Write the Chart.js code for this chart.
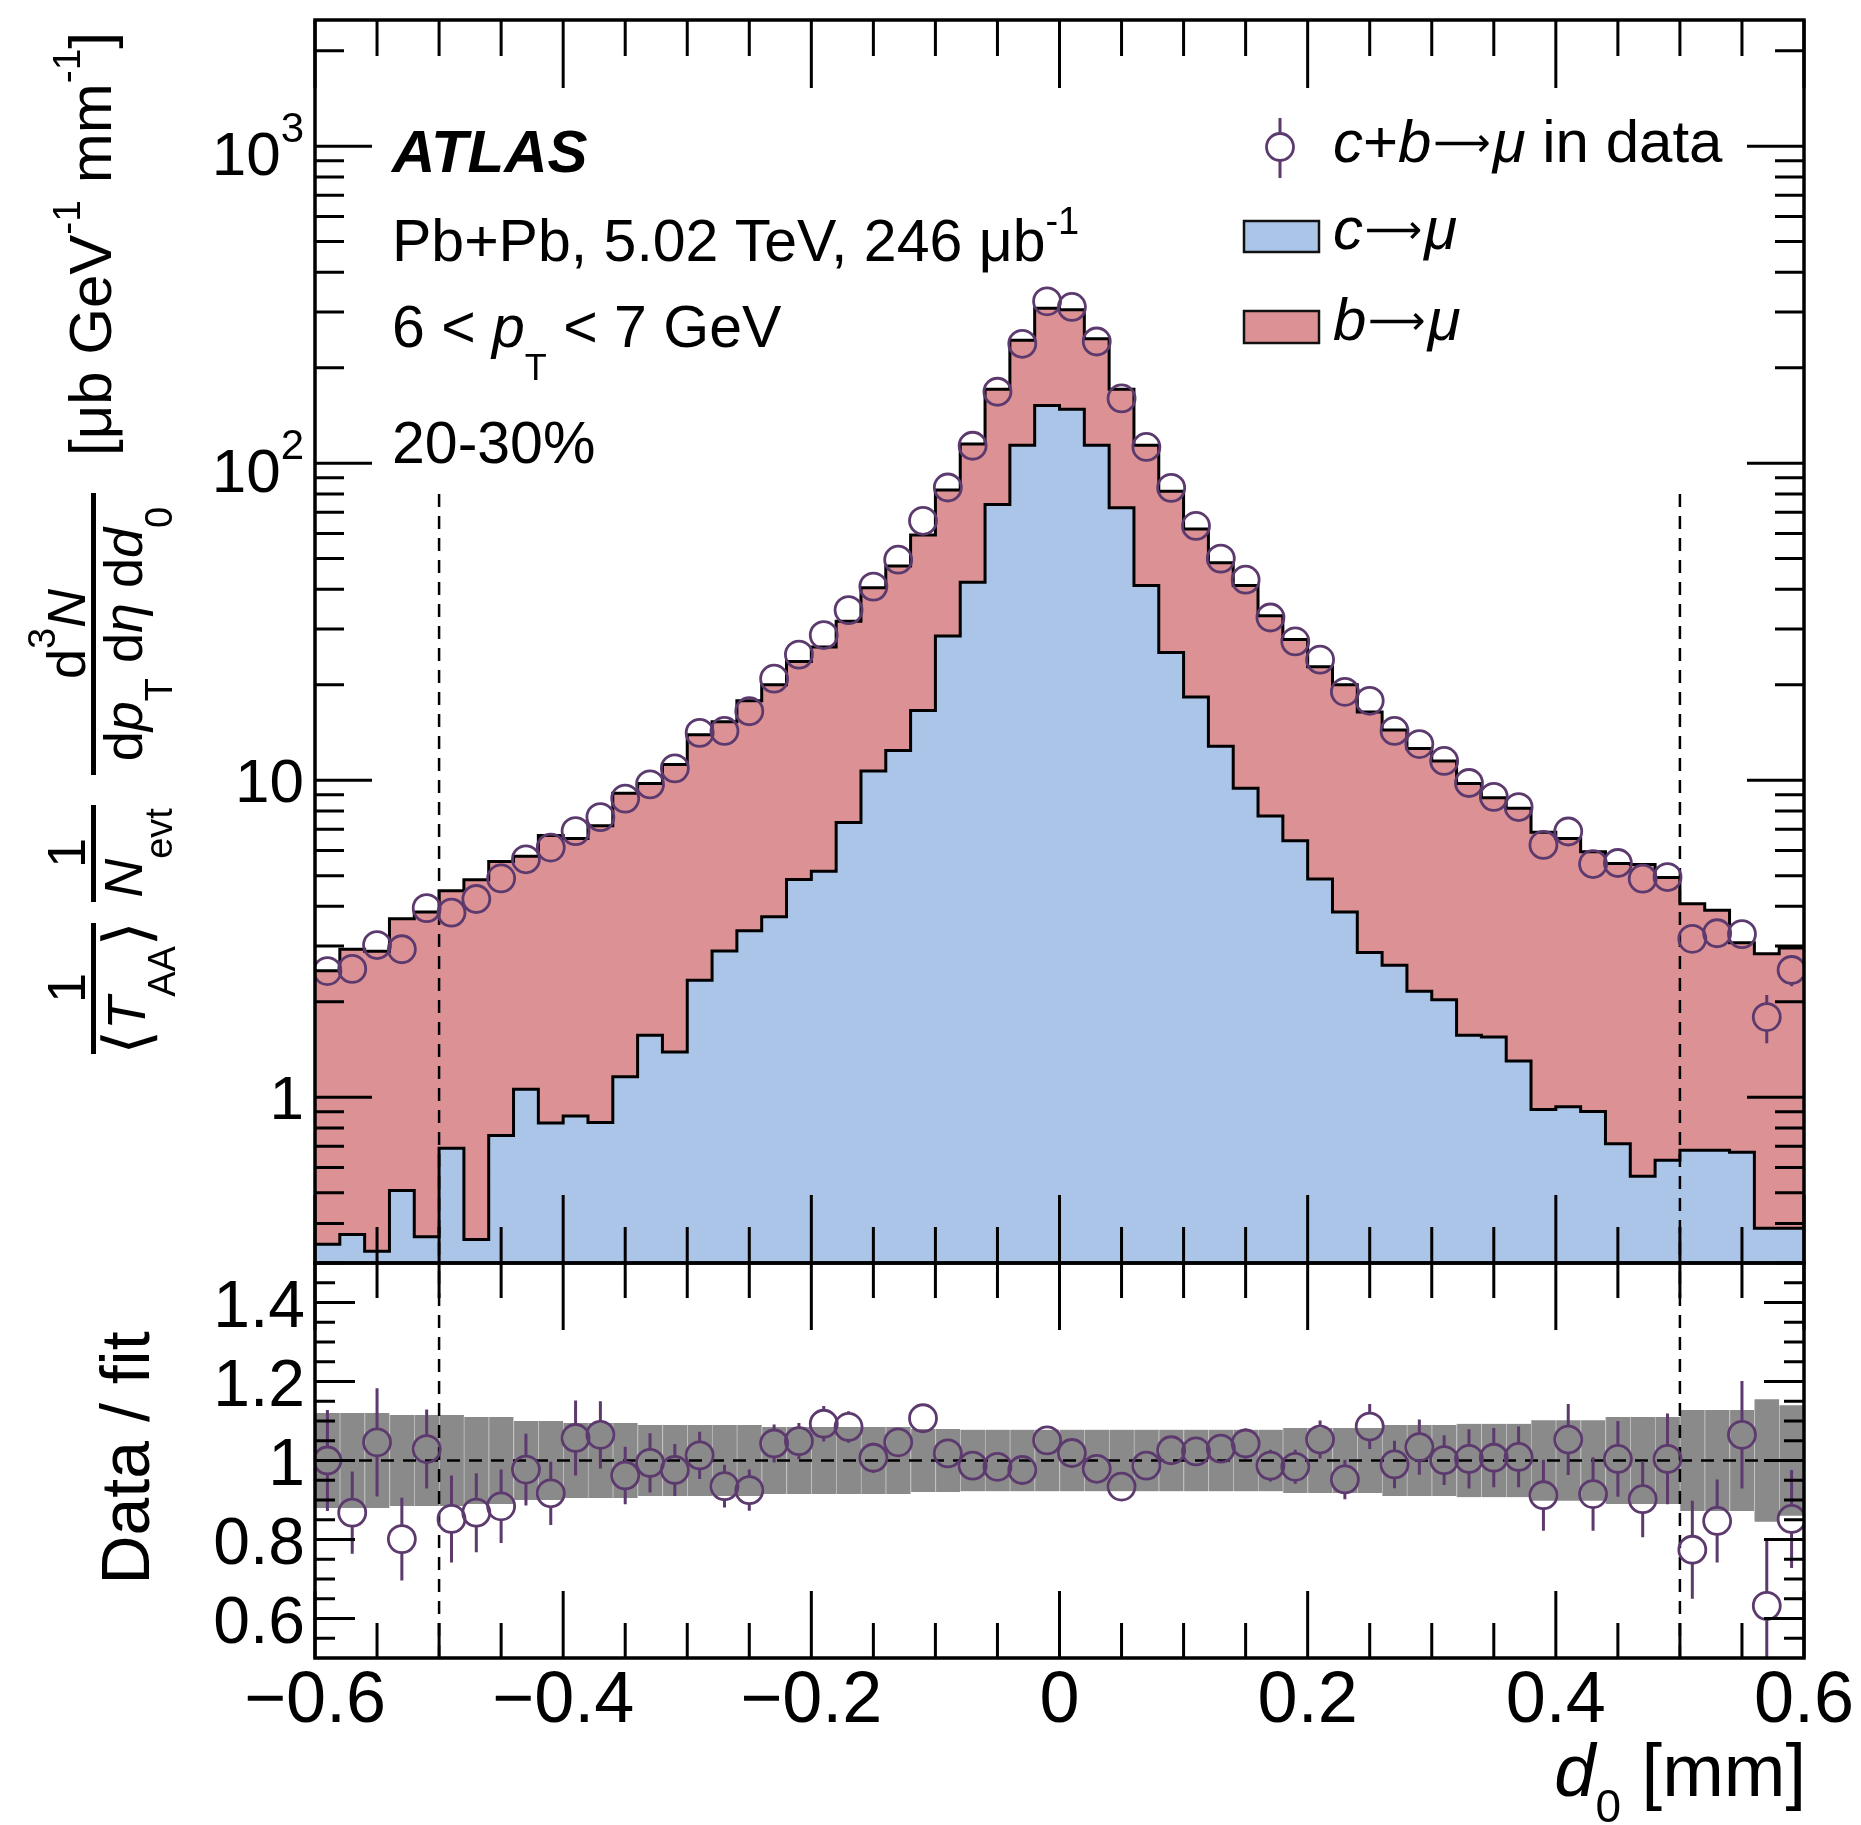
<!DOCTYPE html>
<html>
<head>
<meta charset="utf-8">
<title>c+b→μ d0 distribution</title>
<script src="https://cdn.jsdelivr.net/npm/chart.js@4.4.1/dist/chart.umd.min.js"></script>
<style>
  html, body { margin: 0; padding: 0; background: #ffffff; }
  #wrap { position: relative; width: 1861px; height: 1825px; }
  #wrap canvas { position: absolute; left: 0; top: 0; }
</style>
</head>
<body>
<div id="wrap">
  <canvas id="mainChart" width="1861" height="1825"></canvas>
  <canvas id="ratioChart" width="1861" height="1825"></canvas>
</div>
<script>
// d0 bins [mm], width 0.02
const binCenters = [-0.59, -0.57, -0.55, -0.53, -0.51, -0.49, -0.47, -0.45, -0.43, -0.41,
  -0.39, -0.37, -0.35, -0.33, -0.31, -0.29, -0.27, -0.25, -0.23, -0.21,
  -0.19, -0.17, -0.15, -0.13, -0.11, -0.09, -0.07, -0.05, -0.03, -0.01,
  0.01, 0.03, 0.05, 0.07, 0.09, 0.11, 0.13, 0.15, 0.17, 0.19,
  0.21, 0.23, 0.25, 0.27, 0.29, 0.31, 0.33, 0.35, 0.37, 0.39,
  0.41, 0.43, 0.45, 0.47, 0.49, 0.51, 0.53, 0.55, 0.57, 0.59];
const binWidth = 0.02;

// template yields, stacked (c first, b on top)
const cMuon = [0.344, 0.369, 0.327, 0.508, 0.363, 0.69, 0.356, 0.758, 1.06, 0.829,
  0.873, 0.832, 1.16, 1.57, 1.39, 2.34, 2.89, 3.35, 3.71, 4.86,
  5.16, 7.36, 10.7, 12.4, 16.6, 28.5, 42.1, 74.1, 114, 152,
  148, 114, 72.4, 41.1, 25.3, 18.3, 12.8, 9.44, 7.71, 6.44,
  4.88, 3.84, 2.86, 2.61, 2.16, 2.03, 1.57, 1.55, 1.30, 0.915,
  0.933, 0.902, 0.713, 0.563, 0.633, 0.68, 0.68, 0.67, 0.386, 0.386];
const bMuon = [2.16, 2.56, 2.56, 3.15, 3.48, 3.79, 4.50, 4.78, 4.70, 5.86,
  5.67, 6.35, 7.94, 8.19, 9.81, 11.56, 12.41, 14.45, 16.29, 18.84,
  21.14, 24.34, 29.8, 35.0, 42.8, 53.8, 72.9, 96.9, 130, 156,
  157, 133, 98.6, 72.9, 56.2, 43.7, 35.7, 31.66, 25.29, 21.36,
  17.92, 16.16, 13.54, 11.79, 10.44, 9.47, 8.19, 7.25, 6.86, 5.94,
  5.61, 5.05, 4.75, 4.86, 4.30, 3.40, 3.21, 2.40, 2.45, 2.57];

// c+b->mu in data
const dataValues = [2.50, 2.54, 3.02, 2.93, 3.95, 3.82, 4.22, 4.90, 5.63, 6.13,
  6.91, 7.65, 8.75, 9.70, 10.9, 14.1, 14.3, 16.5, 20.9, 24.9,
  28.7, 34.4, 40.8, 49.6, 65.8, 83.8, 113.5, 168, 238, 324,
  311, 242, 160, 112.5, 83.6, 63.4, 50.0, 42.9, 32.6, 27.4,
  24.0, 19.0, 17.8, 14.3, 13.0, 11.5, 9.80, 8.86, 8.23, 6.25,
  6.89, 5.44, 5.48, 4.89, 4.95, 3.16, 3.29, 3.27, 1.79, 2.52];
const dataErrors = [0.2, 0.2, 0.22, 0.2, 0.25, 0.24, 0.25, 0.27, 0.3, 0.3,
  0.33, 0.35, 0.38, 0.4, 0.42, 0.5, 0.5, 0.55, 0.65, 0.7,
  0.8, 0.9, 1.0, 1.1, 1.4, 1.6, 2, 2.6, 3.4, 4.2,
  4.1, 3.5, 2.6, 2, 1.6, 1.3, 1.1, 1.0, 0.85, 0.75,
  0.7, 0.6, 0.55, 0.5, 0.48, 0.45, 0.42, 0.4, 0.38, 0.35,
  0.35, 0.33, 0.33, 0.3, 0.3, 0.28, 0.28, 0.28, 0.31, 0.28];

// Data / fit
const ratioValues = [1.00, 0.868, 1.046, 0.801, 1.029, 0.852, 0.868, 0.884, 0.977, 0.917,
  1.057, 1.065, 0.962, 0.994, 0.976, 1.013, 0.935, 0.925, 1.043, 1.049,
  1.093, 1.085, 1.007, 1.046, 1.107, 1.018, 0.987, 0.984, 0.976, 1.051,
  1.019, 0.979, 0.934, 0.987, 1.026, 1.023, 1.03, 1.043, 0.987, 0.984,
  1.053, 0.952, 1.086, 0.99, 1.034, 1.001, 1.004, 1.007, 1.009, 0.912,
  1.053, 0.915, 1.004, 0.902, 1.004, 0.774, 0.847, 1.065, 0.632, 0.852];
const ratioErrors = [0.128, 0.104, 0.137, 0.105, 0.10, 0.11, 0.10, 0.093, 0.091, 0.08,
  0.095, 0.085, 0.073, 0.075, 0.066, 0.06, 0.054, 0.052, 0.048, 0.046,
  0.045, 0.04, 0.038, 0.036, 0.034, 0.03, 0.025, 0.02, 0.018, 0.016,
  0.016, 0.018, 0.02, 0.025, 0.03, 0.033, 0.035, 0.038, 0.04, 0.043,
  0.048, 0.05, 0.057, 0.06, 0.07, 0.063, 0.075, 0.075, 0.077, 0.09,
  0.09, 0.093, 0.096, 0.096, 0.115, 0.124, 0.105, 0.136, 0.17, 0.124];
// half width of the grey fit uncertainty band
const fitBand = [0.12, 0.12, 0.12, 0.115, 0.115, 0.115, 0.11, 0.11, 0.10, 0.10,
  0.095, 0.095, 0.095, 0.09, 0.09, 0.09, 0.09, 0.09, 0.085, 0.085,
  0.085, 0.085, 0.085, 0.085, 0.08, 0.08, 0.078, 0.078, 0.078, 0.078,
  0.078, 0.078, 0.078, 0.078, 0.078, 0.078, 0.078, 0.078, 0.078, 0.082,
  0.082, 0.082, 0.082, 0.09, 0.09, 0.09, 0.093, 0.093, 0.093, 0.102,
  0.102, 0.102, 0.11, 0.11, 0.11, 0.128, 0.128, 0.128, 0.155, 0.14];

// tick labels
const xTickValues = [-0.6, -0.4, -0.2, 0, 0.2, 0.4, 0.6];
const xTickLabels = ['\u22120.6', '\u22120.4', '\u22120.2', '0', '0.2', '0.4', '0.6'];
const yTickValues = [1, 10, 100, 1000];
const yTickLabels = [['1', ''], ['10', ''], ['10', '2'], ['10', '3']];
const ratioTickValues = [0.6, 0.8, 1, 1.2, 1.4];
const ratioTickLabels = ['0.6', '0.8', '1', '1.2', '1.4'];

const FONT = '"Liberation Sans", "DejaVu Sans", Arial, sans-serif';
const SYMBOL_FONT = '"DejaVu Sans", "Liberation Sans", sans-serif';
const BLUE = '#abc5e8';
const RED = '#dc9294';
const GREY = '#8a8a8a';
const PURPLE = '#5c3a6e';

// tick positions
const xTicks = [];
for (let k = -12; k <= 12; k++) xTicks.push({ v: k * 0.05, major: k % 4 === 0 });
const logTicks = [];
[0.1, 1, 10, 100, 1000].forEach(d => {
  for (let m = 1; m <= 9; m++) {
    const v = m * d;
    if (v >= 0.3 && v <= 2500) logTicks.push({ v: v, major: m === 1 });
  }
});
const ratioTicks = [];
for (let k = 11; k <= 29; k++) ratioTicks.push({ v: k * 0.05, major: k % 4 === 0 });

// histogram outline points at the bin edges
function stepPoints(values) {
  const pts = values.map((v, i) => ({ x: binCenters[i] - binWidth / 2, y: v }));
  pts.push({ x: binCenters[binCenters.length - 1] + binWidth / 2, y: values[values.length - 1] });
  return pts;
}

// text with italic / sub / superscript runs
function drawRich(ctx, x, y, runs, size, align) {
  const parts = runs.map(r => {
    const s = r.size || size;
    const font = (r.it ? 'italic ' : '') + (r.bold ? 'bold ' : '') + s + 'px ' + (r.sym ? SYMBOL_FONT : FONT);
    ctx.font = font;
    return { t: r.t, font: font, dy: r.dy || 0, pad: r.pad || 0, w: ctx.measureText(r.t).width + 2 * (r.pad || 0) };
  });
  const total = parts.reduce((s, p) => s + p.w, 0);
  let cx = align === 'center' ? x - total / 2 : align === 'right' ? x - total : x;
  ctx.textAlign = 'left';
  ctx.textBaseline = 'alphabetic';
  parts.forEach(p => {
    ctx.font = p.font;
    ctx.fillText(p.t, cx + p.pad, y + p.dy);
    cx += p.w;
  });
  return total;
}

function drawRotated(ctx, sx, sy, runs, size) {
  ctx.save();
  ctx.translate(sx, sy);
  ctx.rotate(-Math.PI / 2);
  drawRich(ctx, 0, 0, runs, size, 'center');
  ctx.restore();
}

function drawTicks(ctx, a, xs, ys, xt, yt, len) {
  ctx.strokeStyle = '#000';
  ctx.lineWidth = 3;
  ctx.beginPath();
  xt.forEach(t => {
    const px = xs.getPixelForValue(t.v);
    const l = t.major ? len.xMaj : len.xMin;
    ctx.moveTo(px, a.bottom); ctx.lineTo(px, a.bottom - l);
    ctx.moveTo(px, a.top); ctx.lineTo(px, a.top + l);
  });
  yt.forEach(t => {
    const py = ys.getPixelForValue(t.v);
    const l = t.major ? len.yMaj : len.yMin;
    ctx.moveTo(a.left, py); ctx.lineTo(a.left + l, py);
    ctx.moveTo(a.right, py); ctx.lineTo(a.right - l, py);
  });
  ctx.stroke();
  ctx.lineWidth = 3.5;
  ctx.strokeRect(a.left, a.top, a.right - a.left, a.bottom - a.top);
}

// vertical error bars outside the open markers
const errorBarPlugin = {
  id: 'errorBars',
  afterDatasetsDraw(chart) {
    const { ctx, chartArea: a } = chart;
    chart.data.datasets.forEach((ds, di) => {
      if (!ds.errors) return;
      const meta = chart.getDatasetMeta(di);
      const ys = chart.scales[meta.yAxisID];
      const r = ds.pointRadius;
      ctx.save();
      ctx.beginPath();
      ctx.rect(a.left, a.top, a.right - a.left, a.bottom - a.top);
      ctx.clip();
      ctx.strokeStyle = ds.borderColor;
      ctx.lineWidth = 3;
      ctx.beginPath();
      meta.data.forEach((pt, i) => {
        const v = ds.data[i].y;
        const e = ds.errors[i];
        if (!e) return;
        const top = ys.getPixelForValue(v + e);
        const bot = ys.getPixelForValue(Math.max(v - e, 1e-6));
        if (top < pt.y - r) { ctx.moveTo(pt.x, pt.y - r); ctx.lineTo(pt.x, top); }
        if (bot > pt.y + r) { ctx.moveTo(pt.x, pt.y + r); ctx.lineTo(pt.x, bot); }
      });
      ctx.stroke();
      ctx.restore();
    });
  }
};

const mainDecor = {
  id: 'mainDecor',
  afterDraw(chart) {
    const { ctx, chartArea: a, scales: { x, y } } = chart;
    ctx.save();
    drawTicks(ctx, a, x, y, xTicks, logTicks, { xMaj: 68, xMin: 36, yMaj: 57, yMin: 29 });

    ctx.fillStyle = '#000';
    // y tick labels
    yTickValues.forEach((v, i) => {
      const base = yTickLabels[i][0];
      const sup = yTickLabels[i][1];
      const py = y.getPixelForValue(v);
      const runs = [{ t: base }];
      if (sup) runs.push({ t: sup, size: 42, dy: -33 });
      drawRich(ctx, 304, py + 22 + (sup ? 7 : 0), runs, 62, 'right');
    });

    // labels
    drawRich(ctx, 392, 172, [{ t: 'ATLAS', it: true, bold: true }], 60, 'left');
    drawRich(ctx, 392, 261, [{ t: 'Pb+Pb, 5.02 TeV, 246 \u03bcb' }, { t: '-1', size: 38, dy: -27 }], 59, 'left');
    drawRich(ctx, 392, 347, [{ t: '6 < ' }, { t: 'p', it: true }, { t: 'T', size: 36, dy: 33 }, { t: ' < 7 GeV' }], 59, 'left');
    drawRich(ctx, 392, 463, [{ t: '20-30%' }], 59, 'left');

    // legend
    const mk = chart.data.datasets[4];
    ctx.strokeStyle = mk.borderColor;
    ctx.lineWidth = 2.8;
    ctx.beginPath();
    ctx.arc(1280, 147, 13.5, 0, Math.PI * 2);
    ctx.stroke();
    ctx.lineWidth = 3;
    ctx.beginPath();
    ctx.moveTo(1280, 118); ctx.lineTo(1280, 133.5);
    ctx.moveTo(1280, 160.5); ctx.lineTo(1280, 178);
    ctx.stroke();
    const arrow = { t: '\u27f6', sym: true, size: 40, dy: -6, pad: 2 };
    drawRich(ctx, 1333, 162, [{ t: 'c', it: true }, { t: '+' }, { t: 'b', it: true }, arrow, { t: '\u03bc', it: true }, { t: ' in data' }], 60, 'left');
    ctx.lineWidth = 2.5;
    ctx.strokeStyle = '#111';
    ctx.fillStyle = chart.data.datasets[0].backgroundColor;
    ctx.fillRect(1244, 221, 75, 31);
    ctx.strokeRect(1244, 221, 75, 31);
    ctx.fillStyle = chart.data.datasets[1].backgroundColor;
    ctx.fillRect(1244, 311, 75, 32);
    ctx.strokeRect(1244, 311, 75, 32);
    ctx.fillStyle = '#000';
    drawRich(ctx, 1333, 249, [{ t: 'c', it: true }, arrow, { t: '\u03bc', it: true }], 60, 'left');
    drawRich(ctx, 1333, 340, [{ t: 'b', it: true }, arrow, { t: '\u03bc', it: true }], 60, 'left');

    // y title
    const TS = 54;
    ctx.fillRect(91, 923, 5, 131);
    drawRotated(ctx, 85, 988, [{ t: '1' }], TS);
    drawRotated(ctx, 145, 988, [{ t: '\u27e8', sym: true, size: 64, dy: 4 }, { t: 'T', it: true }, { t: 'AA', size: 38, dy: 30 },
      { t: '\u27e9', sym: true, size: 64, dy: 4 }], TS);
    ctx.fillRect(91, 805, 5, 97);
    drawRotated(ctx, 85, 853, [{ t: '1' }], TS);
    drawRotated(ctx, 142, 853, [{ t: 'N', it: true }, { t: 'evt', size: 38, dy: 30 }], TS);
    ctx.fillRect(91, 493, 5, 282);
    drawRotated(ctx, 85, 634, [{ t: 'd' }, { t: '3', size: 38, dy: -30 }, { t: 'N', it: true }], TS);
    drawRotated(ctx, 142, 634, [{ t: 'd' }, { t: 'p', it: true }, { t: 'T', size: 38, dy: 30 }, { t: ' d' },
      { t: '\u03b7', it: true }, { t: ' d' }, { t: 'd', it: true }, { t: '0', size: 38, dy: 30 }], TS);
    drawRotated(ctx, 111, 244, [{ t: '[\u03bcb GeV' }, { t: '-1', size: 39, dy: -31 }, { t: ' mm' },
      { t: '-1', size: 39, dy: -31 }, { t: ']' }], 60);
    ctx.restore();
  }
};

const ratioDecor = {
  id: 'ratioDecor',
  afterDraw(chart) {
    const { ctx, chartArea: a, scales: { x, y } } = chart;
    ctx.save();
    drawTicks(ctx, a, x, y, xTicks, ratioTicks, { xMaj: 67, xMin: 35, yMaj: 40, yMin: 20 });
    ctx.fillStyle = '#000';
    ratioTickValues.forEach((v, i) => {
      drawRich(ctx, 305, y.getPixelForValue(v) + 24, [{ t: ratioTickLabels[i] }], 66, 'right');
    });
    xTickValues.forEach((v, i) => {
      drawRich(ctx, x.getPixelForValue(v), 1722, [{ t: xTickLabels[i] }], 72, 'center');
    });
    drawRich(ctx, 1806, 1796, [{ t: 'd', it: true }, { t: '0', size: 46, dy: 26 }, { t: ' [mm]' }], 74, 'right');
    drawRotated(ctx, 149, 1458, [{ t: 'Data / fit' }], 68);
    ctx.restore();
  }
};

function baseOptions(padding, yScale) {
  return {
    responsive: false,
    animation: false,
    devicePixelRatio: 1,
    events: [],
    layout: { padding: padding },
    plugins: { legend: { display: false }, tooltip: { enabled: false } },
    scales: {
      x: { type: 'linear', min: -0.6, max: 0.6, offset: false, display: false },
      y: yScale
    }
  };
}

new Chart(document.getElementById('mainChart'), {
  type: 'line',
  data: {
    datasets: [
      { label: 'c\u2192\u03bc', data: stepPoints(cMuon), stack: 'templates', stepped: true, fill: 'start',
        backgroundColor: BLUE, borderColor: '#000', borderWidth: 3, pointRadius: 0, order: 2 },
      { label: 'b\u2192\u03bc', data: stepPoints(bMuon), stack: 'templates', stepped: true, fill: '-1',
        backgroundColor: RED, borderColor: '#000', borderWidth: 3, pointRadius: 0, order: 2 },
      { label: 'cut low', data: [{ x: -0.5, y: 80 }, { x: -0.5, y: 0.3 }], stack: 'cut1', fill: false,
        borderColor: '#000', borderWidth: 2.5, borderDash: [13, 9], pointRadius: 0, order: 1 },
      { label: 'cut high', data: [{ x: 0.5, y: 80 }, { x: 0.5, y: 0.3 }], stack: 'cut2', fill: false,
        borderColor: '#000', borderWidth: 2.5, borderDash: [13, 9], pointRadius: 0, order: 1 },
      { label: 'c+b\u2192\u03bc in data', data: binCenters.map((x, i) => ({ x: x, y: dataValues[i] })),
        errors: dataErrors, stack: 'data', showLine: false, pointRadius: 13.5, pointBorderWidth: 2.8,
        pointBorderColor: PURPLE, pointBackgroundColor: 'rgba(0,0,0,0)', borderColor: PURPLE, order: 0 }
    ]
  },
  options: baseOptions({ left: 315, right: 57, top: 20, bottom: 562 },
    { type: 'logarithmic', min: 0.3, max: 2500, stacked: true, display: false }),
  plugins: [errorBarPlugin, mainDecor]
});

new Chart(document.getElementById('ratioChart'), {
  type: 'line',
  data: {
    datasets: [
      { type: 'bar', label: 'fit uncertainty',
        data: binCenters.map((x, i) => ({ x: x, y: [1 - fitBand[i], 1 + fitBand[i]] })),
        backgroundColor: GREY, borderColor: 'rgba(185,185,185,0.9)',
        borderWidth: { left: 1, right: 0, top: 0, bottom: 0 }, borderSkipped: false,
        barPercentage: 1, categoryPercentage: 1, order: 3 },
      { label: 'unity', data: [{ x: -0.6, y: 1 }, { x: 0.6, y: 1 }], fill: false,
        borderColor: '#000', borderWidth: 2.5, borderDash: [13, 9], pointRadius: 0, order: 2 },
      { label: 'cut low', data: [{ x: -0.5, y: 0.5 }, { x: -0.5, y: 1.5 }], fill: false,
        borderColor: '#000', borderWidth: 2.5, borderDash: [13, 9], pointRadius: 0, order: 2 },
      { label: 'cut high', data: [{ x: 0.5, y: 0.5 }, { x: 0.5, y: 1.5 }], fill: false,
        borderColor: '#000', borderWidth: 2.5, borderDash: [13, 9], pointRadius: 0, order: 2 },
      { label: 'Data / fit', data: binCenters.map((x, i) => ({ x: x, y: ratioValues[i] })),
        errors: ratioErrors, showLine: false, pointRadius: 13.5, pointBorderWidth: 2.8,
        pointBorderColor: PURPLE, pointBackgroundColor: 'rgba(0,0,0,0)', borderColor: PURPLE, order: 0 }
    ]
  },
  options: baseOptions({ left: 315, right: 57, top: 1263, bottom: 167 },
    { type: 'linear', min: 0.5, max: 1.5, display: false }),
  plugins: [errorBarPlugin, ratioDecor]
});
</script>
</body>
</html>
